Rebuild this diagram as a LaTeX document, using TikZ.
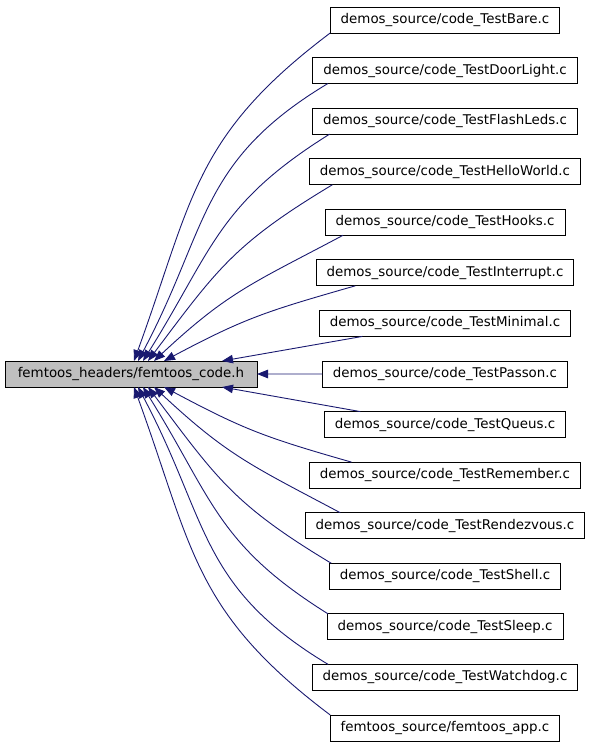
\documentclass[tikz,border=0pt]{standalone}
\usepackage{fontspec}
\setmainfont{DejaVu Sans}
\usetikzlibrary{positioning,arrows.meta}
\definecolor{edgeblue}{RGB}{25,25,112}
\definecolor{focusgray}{RGB}{191,191,191}

\begin{document}
\begin{tikzpicture}[x=1pt, y=1pt,
    file/.style={draw=black, line width=0.9pt, minimum height=26pt,
        inner xsep=10.5pt, inner ysep=3pt, outer sep=0pt,
        font=\fontsize{13.4}{16}\selectfont},
    dep/.style={draw=edgeblue, line width=0.9pt,
        -{Triangle[length=11pt, width=8.5pt]}},
    node distance=24.57pt]
    \useasboundingbox (0,0) rectangle (592,-747);

    % The header
    \node[file, fill=focusgray, minimum width=252pt] (code) at (131,-374)
        {femtoos\_headers/femtoos\_code.h};

    % Files including it
    \node[file] (bare) at (445,-20) {demos\_source/code\_TestBare.c};
    \node[file, below=of bare] (doorlight) {demos\_source/code\_TestDoorLight.c};
    \node[file, below=of doorlight] (flashleds) {demos\_source/code\_TestFlashLeds.c};
    \node[file, below=of flashleds] (helloworld) {demos\_source/code\_TestHelloWorld.c};
    \node[file, below=of helloworld] (hooks) {demos\_source/code\_TestHooks.c};
    \node[file, below=of hooks] (interrupt) {demos\_source/code\_TestInterrupt.c};
    \node[file, below=of interrupt] (minimal) {demos\_source/code\_TestMinimal.c};
    \node[file, below=of minimal] (passon) {demos\_source/code\_TestPasson.c};
    \node[file, below=of passon] (queus) {demos\_source/code\_TestQueus.c};
    \node[file, below=of queus] (remember) {demos\_source/code\_TestRemember.c};
    \node[file, below=of remember] (rendezvous) {demos\_source/code\_TestRendezvous.c};
    \node[file, below=of rendezvous] (shell) {demos\_source/code\_TestShell.c};
    \node[file, below=of shell] (sleep) {demos\_source/code\_TestSleep.c};
    \node[file, below=of sleep] (watchdog) {demos\_source/code\_TestWatchdog.c};
    \node[file, below=of watchdog] (app) {femtoos\_source/femtoos\_app.c};

    % Upper half: into the top of the header
    \draw[dep] (bare.south west) to[out=217, in=70, looseness=1.15] ([xshift=129pt]code.north west);
    \draw[dep] ([xshift=15pt]doorlight.south west) to[out=211, in=62, looseness=1.15] ([xshift=133pt]code.north west);
    \draw[dep] ([xshift=17pt]flashleds.south west) to[out=212, in=58, looseness=1.15] ([xshift=138pt]code.north west);
    \draw[dep] ([xshift=23pt]helloworld.south west) to[out=211, in=53, looseness=1.15] ([xshift=143pt]code.north west);
    \draw[dep] ([xshift=18pt]hooks.south west) to[out=208, in=43, looseness=1.15] ([xshift=149pt]code.north west);
    \draw[dep] ([xshift=39pt]interrupt.south west) to[out=196, in=28, looseness=1.15] ([xshift=159pt]code.north west);
    \draw[dep] ([xshift=43pt]minimal.south west) -- ([xshift=217pt]code.north west);

    % Straight across
    \draw[dep] (passon.west) -- (code.east);

    % Lower half: into the bottom of the header
    \draw[dep] ([xshift=36pt]queus.north west) -- ([xshift=217pt]code.south west);
    \draw[dep] ([xshift=42pt]remember.north west) to[out=164, in=-28, looseness=1.15] ([xshift=159pt]code.south west);
    \draw[dep] ([xshift=35pt]rendezvous.north west) to[out=152, in=-43, looseness=1.15] ([xshift=149pt]code.south west);
    \draw[dep] ([xshift=2pt]shell.north west) to[out=149, in=-53, looseness=1.15] ([xshift=143pt]code.south west);
    \draw[dep] ([xshift=1pt]sleep.north west) to[out=148, in=-58, looseness=1.15] ([xshift=138pt]code.south west);
    \draw[dep] ([xshift=16pt]watchdog.north west) to[out=149, in=-62, looseness=1.15] ([xshift=133pt]code.south west);
    \draw[dep] (app.north west) to[out=143, in=-70, looseness=1.15] ([xshift=129pt]code.south west);
\end{tikzpicture}
\end{document}
